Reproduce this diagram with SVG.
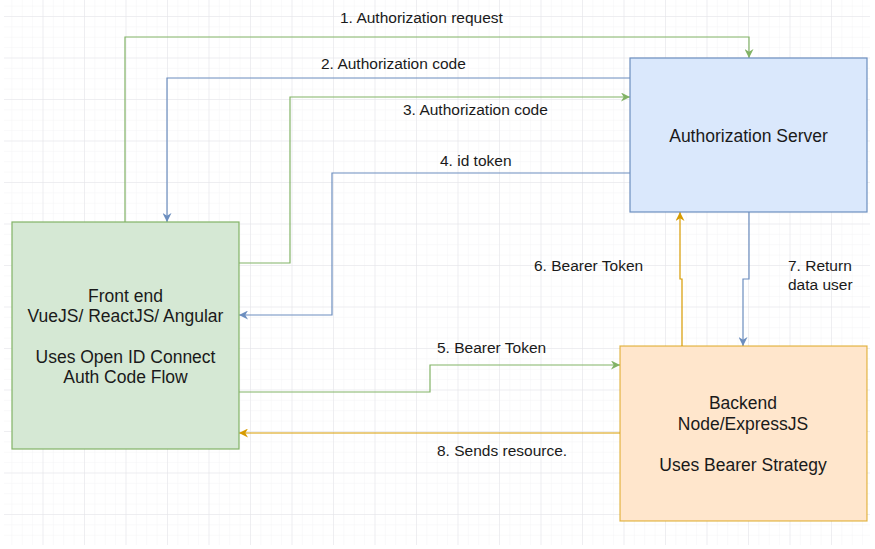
<svg xmlns="http://www.w3.org/2000/svg" width="875" height="549" viewBox="0 0 875 549">
<style>
  text { font-family: "Liberation Sans", Arial, sans-serif; fill: #1a1a1a; }
  .lbl { font-size: 15.5px; }
  .node { font-size: 17.5px; text-anchor: middle; }
  .g { stroke: #82b366; }
  .b { stroke: #6c8ebf; }
  .o { stroke: #d79b00; }
  .c { fill: none; stroke-width: 1.2; }
</style>
<defs>
  <pattern id="minor" x="1" y="16" width="10.375" height="10.375" patternUnits="userSpaceOnUse">
    <path d="M0 0H10.375M0 0V10.375" fill="none" stroke="#f3f3f5" stroke-width="1"/>
  </pattern>
  <pattern id="major" x="1" y="16" width="41.5" height="41.5" patternUnits="userSpaceOnUse">
    <path d="M0 0H41.5M0 0V41.5" fill="none" stroke="#e4e4e8" stroke-width="1"/>
  </pattern>
  <marker id="ag" viewBox="0 0 10 10" refX="10" refY="5" markerWidth="9" markerHeight="9" markerUnits="userSpaceOnUse" orient="auto">
    <path d="M0 0L10 5L0 10L3 5Z" fill="#82b366"/>
  </marker>
  <marker id="ab" viewBox="0 0 10 10" refX="10" refY="5" markerWidth="9" markerHeight="9" markerUnits="userSpaceOnUse" orient="auto">
    <path d="M0 0L10 5L0 10L3 5Z" fill="#6c8ebf"/>
  </marker>
  <marker id="ao" viewBox="0 0 10 10" refX="10" refY="5" markerWidth="9" markerHeight="9" markerUnits="userSpaceOnUse" orient="auto">
    <path d="M0 0L10 5L0 10L3 5Z" fill="#d79b00"/>
  </marker>
</defs>
<rect width="875" height="549" fill="#ffffff"/>
<rect x="4" y="0" width="866" height="545" fill="url(#minor)"/>
<rect x="4" y="0" width="866" height="545" fill="url(#major)"/>

<g id="connectors">
  <path class="c g" d="M125 222V37H749V58" marker-end="url(#ag)"/>
  <path class="c b" d="M630 78H167V222" marker-end="url(#ab)"/>
  <path class="c g" d="M239 263H290V97H630" marker-end="url(#ag)"/>
  <path class="c b" d="M630 173H332V315H239" marker-end="url(#ab)"/>
  <path class="c g" d="M239 392H430V365H620" marker-end="url(#ag)"/>
  <path class="c o" d="M682 346V279H680V212" marker-end="url(#ao)"/>
  <path class="c b" d="M749 212V279H743V346" marker-end="url(#ab)"/>
  <path class="c o" d="M620 433H239" marker-end="url(#ao)"/>
  <text class="lbl" x="340" y="22.5">1. Authorization request</text>
  <text class="lbl" x="321" y="68.5">2. Authorization code</text>
  <text class="lbl" x="403" y="114.5">3. Authorization code</text>
  <text class="lbl" x="440" y="165.5">4. id token</text>
  <text class="lbl" x="437" y="352.5">5. Bearer Token</text>
  <text class="lbl" x="534" y="270.5">6. Bearer Token</text>
  <text class="lbl" x="788" y="270.5">7. Return</text>
  <text class="lbl" x="788" y="289.5">data user</text>
  <text class="lbl" x="437" y="455.5">8. Sends resource.</text>
</g>

<g id="frontend">
  <rect x="12" y="222" width="227" height="227" fill="#d5e8d4" stroke="#82b366" stroke-width="1.2"/>
  <text class="node" x="125.5" y="302">Front end</text>
  <text class="node" x="125.5" y="322">VueJS/ ReactJS/ Angular</text>
  <text class="node" x="125.5" y="363">Uses Open ID Connect</text>
  <text class="node" x="125.5" y="383">Auth Code Flow</text>
</g>

<g id="authserver">
  <rect x="630" y="58" width="237" height="154" fill="#dae8fc" stroke="#6c8ebf" stroke-width="1.2"/>
  <text class="node" x="748.5" y="141.5">Authorization Server</text>
</g>

<g id="backend">
  <rect x="620" y="346" width="247" height="175" fill="#ffe6cc" stroke="#d79b00" stroke-opacity="0.7" stroke-width="1.2"/>
  <text class="node" x="743" y="409">Backend</text>
  <text class="node" x="743" y="430">Node/ExpressJS</text>
  <text class="node" x="743" y="471">Uses Bearer Strategy</text>
</g>
</svg>
